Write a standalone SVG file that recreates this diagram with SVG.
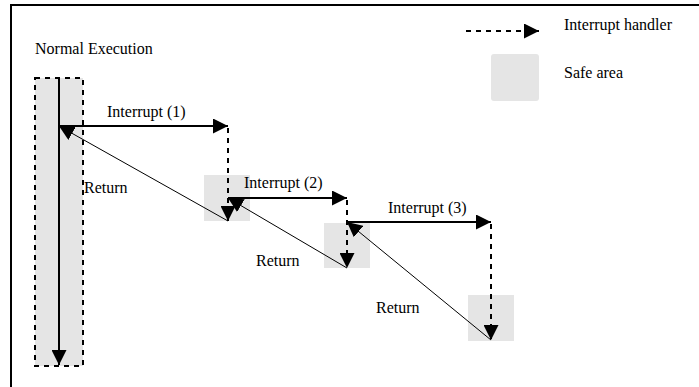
<svg xmlns="http://www.w3.org/2000/svg" width="699" height="387" viewBox="0 0 699 387">
  <style>
    .txt { font-family: "Liberation Serif", "Times New Roman", serif; font-size: 16px; fill: #000; }
    .safe { fill: #e5e5e5; stroke: none; }
    .solid { stroke: #000; stroke-width: 2; fill: none; }
    .thin { stroke: #000; stroke-width: 1; fill: none; }
    .dash { stroke: #000; stroke-width: 2; stroke-dasharray: 5 5; fill: none; }
    .frame { stroke: #000; stroke-width: 2; fill: none; }
  </style>
  <defs>
    <marker id="head" markerUnits="userSpaceOnUse" markerWidth="16" markerHeight="15" refX="15" refY="7.5" orient="auto">
      <path d="M0,0 L15,7.5 L0,15 Z" fill="#000"/>
    </marker>
  </defs>
  <rect width="699" height="387" fill="#fff"/>

  <!-- outer frame (top and left edges) -->
  <path class="frame" d="M11,387 L11,5 L699,5"/>

  <!-- legend -->
  <g id="legend">
    <line class="dash" x1="466" y1="31" x2="539" y2="31" marker-end="url(#head)"/>
    <text class="txt" x="564" y="30">Interrupt handler</text>
    <rect class="safe" x="491" y="54" width="48" height="47" rx="3"/>
    <text class="txt" x="564" y="78">Safe area</text>
  </g>

  <!-- normal execution column -->
  <g id="normal">
    <text class="txt" x="35" y="54">Normal Execution</text>
    <rect class="safe" x="35" y="78" width="48" height="288"/>
    <rect x="35" y="78" width="48" height="288" fill="none" stroke="#000" stroke-width="2" stroke-dasharray="5 5"/>
    <line class="solid" x1="59" y1="78" x2="59" y2="365" marker-end="url(#head)"/>
  </g>

  <!-- safe areas of each handler -->
  <g id="safe1"><rect class="safe" x="204" y="175" width="46" height="46"/></g>
  <g id="safe2"><rect class="safe" x="324" y="223" width="46" height="45"/></g>
  <g id="safe3"><rect class="safe" x="468" y="295" width="46" height="46"/></g>

  <!-- connectors -->
  <g id="connectors">
    <!-- interrupt 1 -->
    <line class="solid" x1="59" y1="126" x2="228" y2="126" marker-end="url(#head)"/>
    <line class="dash" x1="228" y1="128" x2="228" y2="221" marker-end="url(#head)"/>
    <line class="thin" x1="228" y1="221" x2="59" y2="126" marker-end="url(#head)"/>
    <!-- interrupt 2 -->
    <line class="solid" x1="228" y1="198" x2="347" y2="198" marker-end="url(#head)"/>
    <line class="dash" x1="347" y1="200" x2="347" y2="268" marker-end="url(#head)"/>
    <line class="thin" x1="347" y1="268" x2="228" y2="198" marker-end="url(#head)"/>
    <!-- interrupt 3 -->
    <line class="solid" x1="347" y1="222" x2="491" y2="222" marker-end="url(#head)"/>
    <line class="dash" x1="491" y1="224" x2="491" y2="340" marker-end="url(#head)"/>
    <line class="thin" x1="491" y1="340" x2="347" y2="222" marker-end="url(#head)"/>
  </g>

  <!-- labels -->
  <g id="labels">
    <text class="txt" x="107" y="117">Interrupt (1)</text>
    <text class="txt" x="84" y="193">Return</text>
    <text class="txt" x="244" y="188">Interrupt (2)</text>
    <text class="txt" x="256" y="266">Return</text>
    <text class="txt" x="388" y="213">Interrupt (3)</text>
    <text class="txt" x="376" y="313">Return</text>
  </g>
</svg>
